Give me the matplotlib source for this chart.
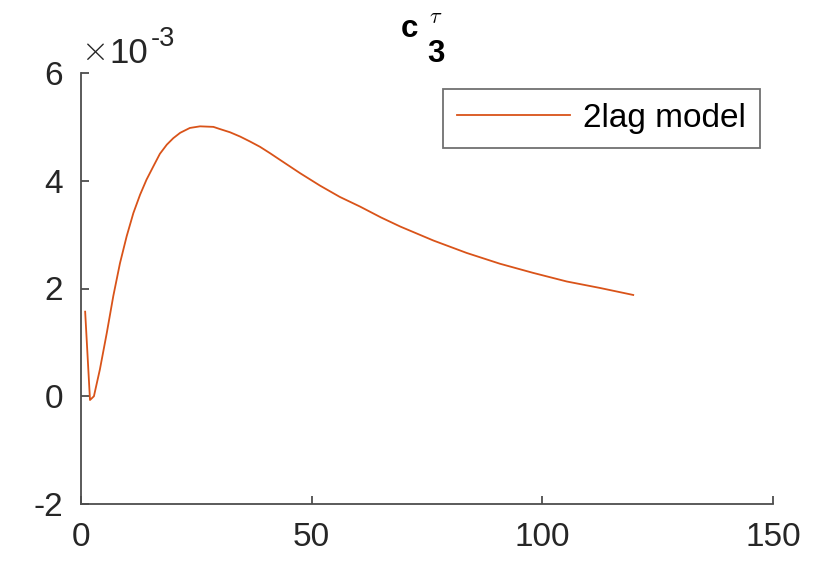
import matplotlib.pyplot as plt

plt.rcParams['font.family'] = ['Liberation Sans', 'DejaVu Sans']
plt.rcParams['axes.unicode_minus'] = False

# curve (y in units of 1e-3)
t = [0.9, 1.95, 2.8, 4.1, 5.6, 7.0, 8.45, 9.9, 11.35, 12.8, 14.2, 15.7, 17.1,
     18.6, 20.0, 21.5, 23.6, 25.8, 28.7, 30.1, 32.3, 34.5, 36.6, 38.8, 41.0,
     43.1, 47.5, 51.8, 56.1, 60.5, 65.0, 69.2, 76.4, 83.6, 90.8, 98.0, 105.3,
     112.5, 119.7]
c3_tau = [1.57, -0.07, 0.0, 0.50, 1.18, 1.86, 2.47, 2.97, 3.40, 3.74, 4.02,
          4.27, 4.50, 4.67, 4.79, 4.89, 4.98, 5.01, 5.00, 4.96, 4.90, 4.82,
          4.73, 4.63, 4.51, 4.39, 4.14, 3.91, 3.70, 3.52, 3.32, 3.15, 2.89,
          2.66, 2.46, 2.29, 2.13, 2.01, 1.88]

xticks = [0, 50, 100, 150]
yticks = [-2, 0, 2, 4, 6]

W, H = 831, 562
fig = plt.figure(figsize=(W/100, H/100), dpi=100)
ax = fig.add_axes([81/W, 58/H, 692/W, 431/H])

ax.plot(t, c3_tau, color='#D95319', lw=1.3, label='2lag model')

ax.set_xlim(0, 150)
ax.set_ylim(-2, 6)
ax.set_xticks(xticks)
ax.set_yticks(yticks)

for side in ['top', 'right']:
    ax.spines[side].set_visible(False)
for side in ['left', 'bottom']:
    ax.spines[side].set_color('#4d4d4d')
    ax.spines[side].set_linewidth(1.3)

ax.tick_params(direction='in', length=6, width=1.3, color='#4d4d4d',
               labelsize=24, labelcolor='#262626')
ax.tick_params(axis='y', pad=13)
ax.tick_params(axis='x', pad=13)

# exponent label, MATLAB style (x10^-3)
txt = '#262626'
fig.text(81/W, 1 - 51/H, r'$\times$', fontsize=25, math_fontfamily='cm',
         color=txt, ha='left', va='center')
fig.text(109/W, 1 - 63/H, '10', fontsize=25, color=txt, ha='left',
         va='baseline')
fig.text(151/W, 1 - 46.5/H, '-3', fontsize=19.5, color=txt, ha='left',
         va='baseline')

# title c_3^tau built from pieces (MATLAB tex look)
fig.text(401/W, 1 - 37/H, 'c', fontsize=22.5, fontweight='bold',
         va='baseline')
fig.text(427/W, 1 - 62.5/H, '3', fontsize=22.5, fontweight='bold',
         va='baseline')
fig.text(429/W, 1 - 23/H, r'$\tau$', fontsize=16, math_fontfamily='cm',
         va='baseline')

leg = ax.legend(loc='upper right', bbox_to_anchor=(0.981, 0.963), fontsize=24,
                fancybox=False, edgecolor='#4d4d4d', handlelength=3.4,
                borderpad=0.42, handletextpad=0.38, borderaxespad=0)
leg.get_frame().set_linewidth(1.3)

plt.savefig('out.png', dpi=100)
